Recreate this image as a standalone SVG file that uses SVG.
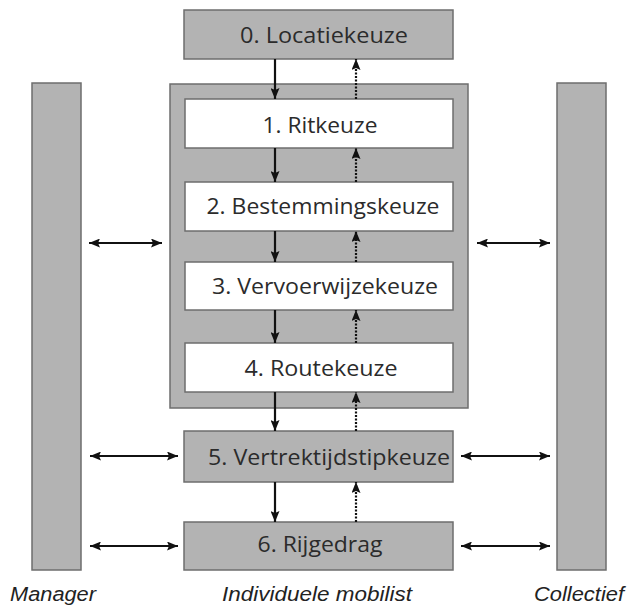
<svg xmlns="http://www.w3.org/2000/svg" width="629" height="605" viewBox="0 0 629 605">
<style>
.g{fill:#b3b3b3;stroke:#6e6e6e;stroke-width:1.5}
.w{fill:#ffffff;stroke:#6e6e6e;stroke-width:1.5}
.t{font-family:"Open Sans","DejaVu Sans",sans-serif;font-size:21px;fill:#2b2b2b;text-anchor:middle}
.l{font-family:"Liberation Sans",Arial,sans-serif;font-style:italic;font-size:20px;fill:#222;text-anchor:middle}
.a{stroke:#111;stroke-width:2.2;fill:none}
.d{stroke:#111;stroke-width:2.2;fill:none;stroke-dasharray:2 1.5}
</style>
<defs>
<marker id="h" viewBox="0 0 11 9" refX="11" refY="4.5" markerWidth="11" markerHeight="9" markerUnits="userSpaceOnUse" orient="auto-start-reverse">
<path d="M0,0 L11,4.5 L0,9 L2,4.5 Z" fill="#111"/>
</marker>
</defs>
<rect width="629" height="605" fill="#fff"/>
<g id="manager"><rect class="g" x="32" y="83" width="49" height="487"/><text class="l" x="53" y="601" textLength="86" lengthAdjust="spacingAndGlyphs">Manager</text></g>
<g id="collectief"><rect class="g" x="557" y="83" width="49" height="487"/><text class="l" x="579" y="601" textLength="90" lengthAdjust="spacingAndGlyphs">Collectief</text></g>
<g id="individuele"><rect class="g" x="170" y="84" width="298" height="324"/><text class="l" x="317" y="601" textLength="190" lengthAdjust="spacingAndGlyphs">Individuele mobilist</text></g>
<g id="n0"><rect class="g" x="184" y="10" width="269" height="49"/><text class="t" x="324" y="43" textLength="168" lengthAdjust="spacingAndGlyphs">0. Locatiekeuze</text></g>
<g id="n1"><rect class="w" x="185" y="99" width="268" height="49"/><text class="t" x="320" y="133" textLength="115" lengthAdjust="spacingAndGlyphs">1. Ritkeuze</text></g>
<g id="n2"><rect class="w" x="185" y="182" width="268" height="49"/><text class="t" x="323" y="214" textLength="233" lengthAdjust="spacingAndGlyphs">2. Bestemmingskeuze</text></g>
<g id="n3"><rect class="w" x="185" y="262" width="268" height="48"/><text class="t" x="325" y="294" textLength="226" lengthAdjust="spacingAndGlyphs">3. Vervoerwijzekeuze</text></g>
<g id="n4"><rect class="w" x="185" y="343" width="268" height="49"/><text class="t" x="321" y="376" textLength="153" lengthAdjust="spacingAndGlyphs">4. Routekeuze</text></g>
<g id="n5"><rect class="g" x="184" y="431" width="269" height="51"/><text class="t" x="329" y="465" textLength="242" lengthAdjust="spacingAndGlyphs">5. Vertrektijdstipkeuze</text></g>
<g id="n6"><rect class="g" x="184" y="522" width="269" height="48"/><text class="t" x="320" y="552" textLength="125" lengthAdjust="spacingAndGlyphs">6. Rijgedrag</text></g>
<g id="connectors">
<line class="a" x1="275" y1="59" x2="275" y2="99" marker-end="url(#h)"/>
<line class="d" x1="356" y1="99" x2="356" y2="59" marker-end="url(#h)"/>
<line class="a" x1="275" y1="148" x2="275" y2="182" marker-end="url(#h)"/>
<line class="d" x1="356" y1="182" x2="356" y2="148" marker-end="url(#h)"/>
<line class="a" x1="275" y1="231" x2="275" y2="262" marker-end="url(#h)"/>
<line class="d" x1="356" y1="262" x2="356" y2="231" marker-end="url(#h)"/>
<line class="a" x1="275" y1="310" x2="275" y2="343" marker-end="url(#h)"/>
<line class="d" x1="356" y1="343" x2="356" y2="310" marker-end="url(#h)"/>
<line class="a" x1="275" y1="392" x2="275" y2="431" marker-end="url(#h)"/>
<line class="d" x1="356" y1="431" x2="356" y2="392" marker-end="url(#h)"/>
<line class="a" x1="275" y1="482" x2="275" y2="522" marker-end="url(#h)"/>
<line class="d" x1="356" y1="522" x2="356" y2="482" marker-end="url(#h)"/>
<line class="a" x1="89" y1="243" x2="162" y2="243" marker-start="url(#h)" marker-end="url(#h)"/>
<line class="a" x1="477" y1="243" x2="550" y2="243" marker-start="url(#h)" marker-end="url(#h)"/>
<line class="a" x1="90" y1="456" x2="178" y2="456" marker-start="url(#h)" marker-end="url(#h)"/>
<line class="a" x1="461" y1="456" x2="550" y2="456" marker-start="url(#h)" marker-end="url(#h)"/>
<line class="a" x1="90" y1="546" x2="178" y2="546" marker-start="url(#h)" marker-end="url(#h)"/>
<line class="a" x1="461" y1="546" x2="550" y2="546" marker-start="url(#h)" marker-end="url(#h)"/>
</g>
</svg>
